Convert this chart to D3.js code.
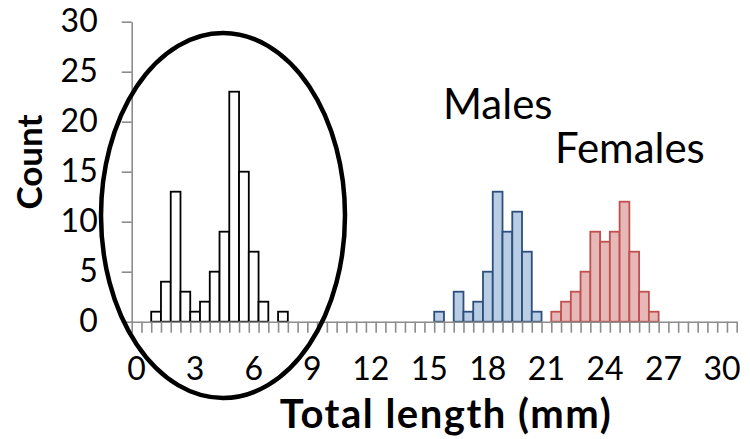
<!DOCTYPE html>
<html>
<head>
<meta charset="utf-8">
<script src="https://cdn.jsdelivr.net/npm/d3@7"></script>
<style>
  body { margin: 0; background: #fff; }
  svg text { font-family: Lato, Carlito, Calibri, sans-serif; fill: #000; }
</style>
</head>
<body>
<div id="chart"></div>
<script>
// bins are 0.5 mm wide, categories 0 .. 30.5
const bins = d3.range(0, 31, 0.5);
const xLabels = [0, 3, 6, 9, 12, 15, 18, 21, 24, 27, 30];
const yTicks = [0, 5, 10, 15, 20, 25, 30];

// unsexed juveniles (circled group)
const juvBins   = [1, 1.5, 2, 2.5, 3, 3.5, 4, 4.5, 5, 5.5, 6, 6.5, 7, 7.5];
const juvCounts = [1, 4, 13, 3, 1, 2, 5, 9, 23, 15, 7, 2, 0, 1];

const maleBins   = [15.5, 16, 16.5, 17, 17.5, 18, 18.5, 19, 19.5, 20, 20.5];
const maleCounts = [1, 0, 3, 1, 2, 5, 13, 9, 11, 7, 1];

const femaleBins   = [21.5, 22, 22.5, 23, 23.5, 24, 24.5, 25, 25.5, 26, 26.5];
const femaleCounts = [1, 2, 3, 5, 9, 8, 9, 12, 7, 3, 1];

const width = 750, height = 439;
const plotLeft = 131.7, plotRight = 736.7, plotTop = 21.7, plotBottom = 321.7;
const axisColor = '#8c8c8c';

let svg = d3.select('#chart')
  .append('svg')
    .attr('width', width)
    .attr('height', height);

let x = d3.scaleBand().domain(bins).range([plotLeft, plotRight]).padding(0);
let xEdge = d3.scaleLinear().domain([0, bins.length]).range([plotLeft, plotRight]);
let y = d3.scaleLinear().domain([0, 30]).range([plotBottom, plotTop]);

// series
let series = [
  {bins: juvBins, counts: juvCounts, fill: '#ffffff', stroke: '#000000'},
  {bins: maleBins, counts: maleCounts, fill: '#b9cde5', stroke: '#2c4f7c'},
  {bins: femaleBins, counts: femaleCounts, fill: '#e6b9b8', stroke: '#c0504d'}
];

series.forEach((s) => {
  let data = s.bins.map((b, i) => ({bin: b, n: s.counts[i]})).filter((d) => d.n > 0);
  svg.append('g')
    .selectAll('rect')
    .data(data)
    .enter().append('rect')
      .attr('x', (d) => x(d.bin))
      .attr('y', (d) => y(d.n))
      .attr('width', x.bandwidth())
      .attr('height', (d) => y(0) - y(d.n))
      .attr('fill', s.fill)
      .attr('stroke', s.stroke)
      .attr('stroke-width', 1.8);
});

// y axis
let yAxis = svg.append('g')
  .attr('transform', 'translate(' + plotLeft + ',0)')
  .call(d3.axisLeft(y).tickValues(yTicks).tickSize(10).tickPadding(24).tickSizeOuter(0));
yAxis.select('.domain').attr('stroke', axisColor).attr('stroke-width', 1.6);
yAxis.selectAll('.tick line').attr('stroke', axisColor).attr('stroke-width', 1.6);
yAxis.selectAll('text').style('font-size', '32px').attr('fill', '#000');

// x axis: tick marks on category edges
let xTickAxis = svg.append('g')
  .attr('transform', 'translate(0,' + plotBottom + ')')
  .call(d3.axisBottom(xEdge).tickValues(d3.range(0, bins.length + 1)).tickSize(11).tickFormat('').tickSizeOuter(0));
xTickAxis.select('.domain').attr('stroke', axisColor).attr('stroke-width', 1.6);
xTickAxis.selectAll('.tick line').attr('stroke', axisColor).attr('stroke-width', 1.6);

// x axis labels, centred on categories
let xLabelAxis = svg.append('g')
  .attr('transform', 'translate(0,' + plotBottom + ')')
  .call(d3.axisBottom(x).tickValues(xLabels).tickSize(0).tickPadding(36));
xLabelAxis.select('.domain').remove();
xLabelAxis.selectAll('text').style('font-size', '32px').attr('fill', '#000');

// axis titles
svg.append('text')
  .attr('transform', 'translate(42,' + 162 + ') rotate(-90)')
  .attr('text-anchor', 'middle')
  .style('font-size', '35px')
  .style('font-weight', 'bold')
  .text('Count');

svg.append('text')
  .attr('x', 446)
  .attr('y', 428)
  .attr('text-anchor', 'middle')
  .style('font-size', '40px')
  .style('letter-spacing', '1.5px')
  .style('font-weight', 'bold')
  .text('Total length (mm)');

// group labels
svg.append('text')
  .attr('x', 443).attr('y', 118.5)
  .style('font-size', '42px')
  .text('Males');

svg.append('text')
  .attr('x', 555).attr('y', 163)
  .style('font-size', '42px')
  .text('Females');

// ellipse round the juveniles
svg.append('ellipse')
  .attr('cx', 223)
  .attr('cy', 215.5)
  .attr('rx', 122)
  .attr('ry', 182.5)
  .attr('fill', 'none')
  .attr('stroke', '#000')
  .attr('stroke-width', 4.5);
</script>
</body>
</html>
